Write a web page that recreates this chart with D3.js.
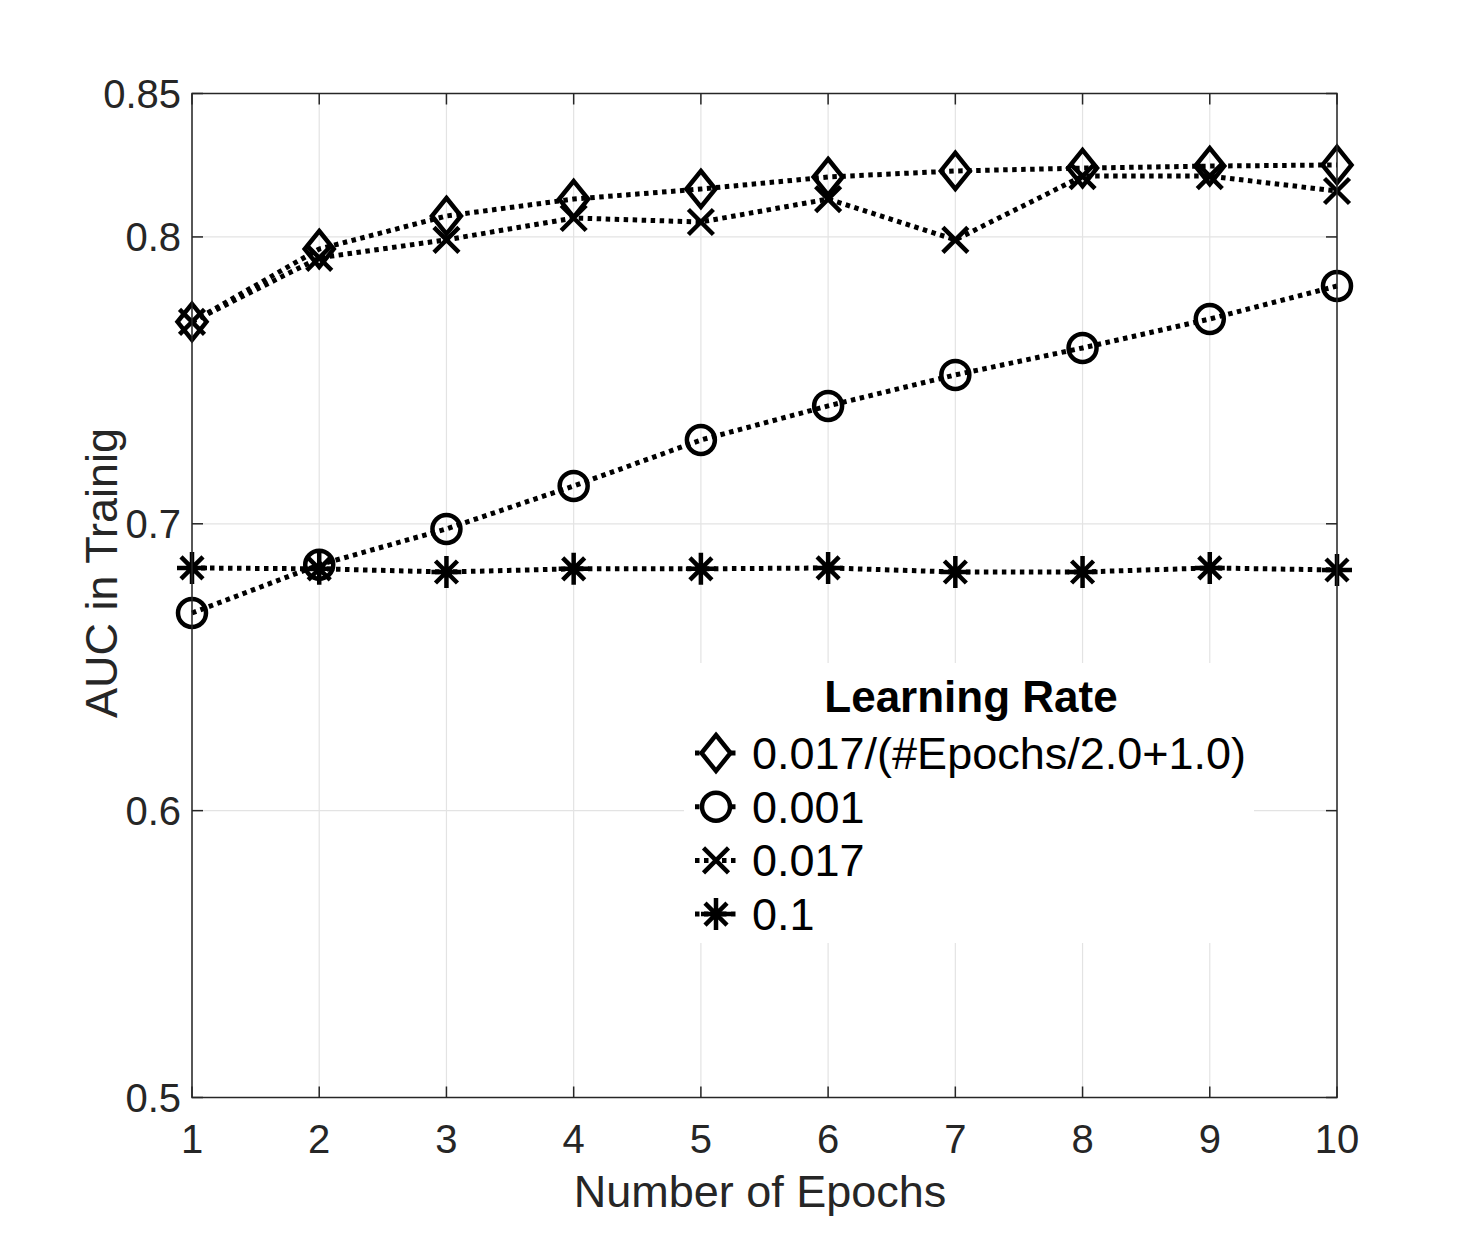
<!DOCTYPE html>
<html>
<head>
<meta charset="utf-8">
<script src="https://cdn.jsdelivr.net/npm/d3@7"></script>
<style>
  body { margin: 0; background: #fff; }
  svg { font-family: "Liberation Sans", Arial, sans-serif; }
</style>
</head>
<body>
<div class="chart-container"></div>
<script>
// data
const epochs = [1, 2, 3, 4, 5, 6, 7, 8, 9, 10];
const lrDecay = [0.7704, 0.7958, 0.8073, 0.8132, 0.8167, 0.8209, 0.8230, 0.8240, 0.8247, 0.8251];
const lr0001 = [0.6689, 0.6857, 0.6982, 0.7132, 0.7292, 0.7411, 0.7519, 0.7613, 0.7714, 0.7829];
const lr0017 = [0.7704, 0.7927, 0.7990, 0.8066, 0.8052, 0.8132, 0.7990, 0.8212, 0.8212, 0.8160];
const lr01 = [0.6846, 0.6843, 0.6832, 0.6843, 0.6843, 0.6846, 0.6832, 0.6832, 0.6846, 0.6839];
const seriesNames = ["0.017/(#Epochs/2.0+1.0)", "0.001", "0.017", "0.1"];
const yTicks = [0.5, 0.6, 0.7, 0.8, 0.85];
const yTickLabels = ["0.5", "0.6", "0.7", "0.8", "0.85"];

const width = 1479, height = 1237;
const margin = { top: 93.5, right: 142, bottom: 139.5, left: 192 };

const svg = d3.select(".chart-container").append("svg")
  .attr("width", width)
  .attr("height", height);

const x = d3.scaleLinear().domain([1, 10]).range([margin.left, width - margin.right]);
const y = d3.scaleLinear().domain([0.5, 0.85]).range([height - margin.bottom, margin.top]);

const axisColor = "#262626";

// grid
svg.append("g").selectAll("line").data(epochs).join("line")
  .attr("x1", d => x(d)).attr("x2", d => x(d))
  .attr("y1", y(0.5)).attr("y2", y(0.85))
  .attr("stroke", "#e3e3e3").attr("stroke-width", 1.2);
svg.append("g").selectAll("line").data(yTicks).join("line")
  .attr("x1", x(1)).attr("x2", x(10))
  .attr("y1", d => y(d)).attr("y2", d => y(d))
  .attr("stroke", "#e3e3e3").attr("stroke-width", 1.2);

// marker shapes
function markerPath(type) {
  const p = d3.path();
  if (type === "diamond") {
    p.moveTo(0, -18); p.lineTo(14.5, 0); p.lineTo(0, 18); p.lineTo(-14.5, 0); p.closePath();
  } else if (type === "circle") {
    p.arc(0, 0, 14, 0, 2 * Math.PI);
  } else if (type === "x") {
    p.moveTo(-12.5, -12.5); p.lineTo(12.5, 12.5); p.moveTo(-12.5, 12.5); p.lineTo(12.5, -12.5);
  } else {
    p.moveTo(-15, 0); p.lineTo(15, 0); p.moveTo(0, -16); p.lineTo(0, 16);
    p.moveTo(-11, -11); p.lineTo(11, 11); p.moveTo(-11, 11); p.lineTo(11, -11);
  }
  return p.toString();
}

const series = [
  { name: seriesNames[0], values: lrDecay, marker: "diamond" },
  { name: seriesNames[1], values: lr0001, marker: "circle" },
  { name: seriesNames[2], values: lr0017, marker: "x" },
  { name: seriesNames[3], values: lr01, marker: "star" }
];

const line = d3.line()
  .x((d, i) => x(epochs[i]))
  .y(d => y(d));

series.forEach(s => {
  svg.append("path")
    .datum(s.values)
    .attr("d", line)
    .attr("fill", "none")
    .attr("stroke", "#000")
    .attr("stroke-width", 5)
    .attr("stroke-dasharray", "4.5 4.5");
  svg.append("g").selectAll("path").data(s.values).join("path")
    .attr("transform", (d, i) => `translate(${x(epochs[i])},${y(d)})`)
    .attr("d", markerPath(s.marker))
    .attr("fill", "none")
    .attr("stroke", "#000")
    .attr("stroke-width", 4.5);
});

// box and ticks
svg.append("rect")
  .attr("x", x(1)).attr("y", y(0.85))
  .attr("width", x(10) - x(1)).attr("height", y(0.5) - y(0.85))
  .attr("fill", "none").attr("stroke", axisColor).attr("stroke-width", 1.5);

const tickLen = 11;
svg.append("g").selectAll("line").data(yTicks).join("line")
  .attr("x1", x(1)).attr("x2", x(1) + tickLen)
  .attr("y1", d => y(d)).attr("y2", d => y(d))
  .attr("stroke", axisColor).attr("stroke-width", 1.5);
svg.append("g").selectAll("line").data(yTicks).join("line")
  .attr("x1", x(10)).attr("x2", x(10) - tickLen)
  .attr("y1", d => y(d)).attr("y2", d => y(d))
  .attr("stroke", axisColor).attr("stroke-width", 1.5);
svg.append("g").selectAll("line").data(epochs).join("line")
  .attr("x1", d => x(d)).attr("x2", d => x(d))
  .attr("y1", y(0.5)).attr("y2", y(0.5) - tickLen)
  .attr("stroke", axisColor).attr("stroke-width", 1.5);
svg.append("g").selectAll("line").data(epochs).join("line")
  .attr("x1", d => x(d)).attr("x2", d => x(d))
  .attr("y1", y(0.85)).attr("y2", y(0.85) + tickLen)
  .attr("stroke", axisColor).attr("stroke-width", 1.5);

// tick labels
svg.append("g").selectAll("text").data(yTicks).join("text")
  .attr("x", x(1) - 11)
  .attr("y", d => y(d) + 14)
  .attr("text-anchor", "end")
  .attr("font-size", 40)
  .attr("fill", axisColor)
  .text((d, i) => yTickLabels[i]);
svg.append("g").selectAll("text").data(epochs).join("text")
  .attr("x", d => x(d))
  .attr("y", y(0.5) + 55)
  .attr("text-anchor", "middle")
  .attr("font-size", 40)
  .attr("fill", axisColor)
  .text(d => d);

// axis labels
svg.append("text")
  .attr("x", 760)
  .attr("y", 1207)
  .attr("text-anchor", "middle")
  .attr("font-size", 45)
  .attr("fill", axisColor)
  .text("Number of Epochs");
svg.append("text")
  .attr("transform", "translate(117,573) rotate(-90)")
  .attr("text-anchor", "middle")
  .attr("font-size", 45)
  .attr("fill", axisColor)
  .text("AUC in Trainig");

// legend
const legend = svg.append("g");
legend.append("rect")
  .attr("x", 684).attr("y", 663)
  .attr("width", 570).attr("height", 280)
  .attr("fill", "#fff");
legend.append("text")
  .attr("x", 971).attr("y", 712)
  .attr("text-anchor", "middle")
  .attr("font-size", 44)
  .attr("font-weight", "bold")
  .attr("fill", "#000")
  .text("Learning Rate");
series.forEach((s, i) => {
  const cy = 753 + i * 53.7;
  legend.append("line")
    .attr("x1", 695).attr("x2", 737)
    .attr("y1", cy).attr("y2", cy)
    .attr("stroke", "#000").attr("stroke-width", 5)
    .attr("stroke-dasharray", "4.5 4.5");
  legend.append("path")
    .attr("transform", `translate(716,${cy})`)
    .attr("d", markerPath(s.marker))
    .attr("fill", "#fff")
    .attr("stroke", "#000")
    .attr("stroke-width", 4.5);
  legend.append("text")
    .attr("x", 752).attr("y", cy + 16)
    .attr("font-size", 45)
    .attr("fill", "#000")
    .text(s.name);
});
</script>
</body>
</html>
